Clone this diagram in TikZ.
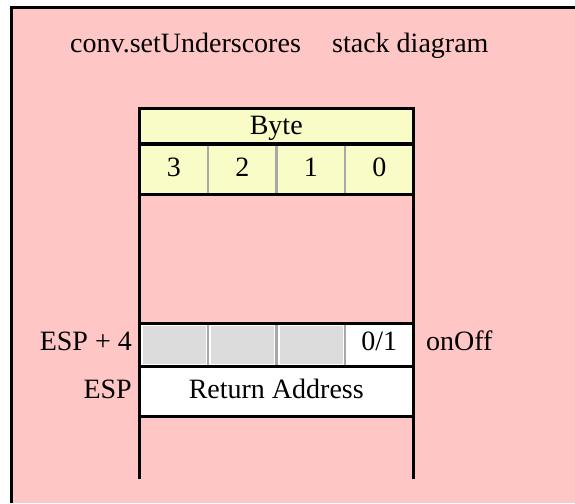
\documentclass[tikz,border=0pt]{standalone}
\usepackage{fontspec}
\setmainfont{Liberation Serif}
\definecolor{bgpink}{RGB}{255,198,198}
\definecolor{hdryellow}{RGB}{250,252,200}
\definecolor{cellgray}{RGB}{220,220,220}
\definecolor{divgray}{RGB}{168,168,168}
\begin{document}
\begin{tikzpicture}[x=1pt,y=-1pt,
  txt/.style={font=\fontsize{28}{32}\selectfont, inner sep=0pt},
  frameline/.style={line width=3pt, black},
  sepline/.style={line width=2.5pt, divgray},
  grayfill/.style={fill=cellgray},
]
\useasboundingbox (0,0) rectangle (575,503);
% background
\fill[bgpink] (10,6) rectangle (575,503);
\draw[frameline] (11.5,503) -- (11.5,7.5) -- (575,7.5);
% title
\node[txt, anchor=base west] (title) at (70,52.5) {conv.setUnderscores};
\node[txt, anchor=base west] (title2) at (332,52.5) {stack diagram};
% header fills
\fill[hdryellow] (139.5,108) rectangle (413,194.5);
% row fills
\fill[white] (139.5,323) rectangle (413,416.5);
\fill[grayfill] (143,325.5) rectangle (205.5,364);
\fill[grayfill] (211,325.5) rectangle (274,364);
\fill[grayfill] (279.5,325.5) rectangle (342.5,364);
% gray dividers
\foreach \xx in {208,276.5,345} {
  \draw[sepline] (\xx,145) -- (\xx,193.5);
  \draw[sepline] (\xx,324) -- (\xx,365.5);
}
% frame lines
\coordinate (tl) at (139.5,108);
\coordinate (tr) at (413,108);
\coordinate (bl) at (139.5,479);
\coordinate (br) at (413,479);
\draw[frameline] (tl) -- (bl);
\draw[frameline] (tr) -- (br);
\draw[frameline] (138,108) -- (414.5,108);
\draw[line width=4pt] (138,144) -- (415,144);
\draw[frameline] (138,194.5) -- (415,194.5);
\draw[frameline] (138,323) -- (415,323);
\draw[frameline] (138,366.5) -- (415,366.5);
\draw[frameline] (138,416.5) -- (415,416.5);
% texts
\node[txt, anchor=base] (byte) at (276.25,134) {Byte};
\node[txt, anchor=base] (b3) at (173.75,176.5) {3};
\node[txt, anchor=base] (b2) at (242.25,176.5) {2};
\node[txt, anchor=base] (b1) at (310.75,176.5) {1};
\node[txt, anchor=base] (b0) at (379.25,176.5) {0};
\node[txt, anchor=base] (v01) at (379.25,350.5) {0/1};
\node[txt, anchor=base] (ra) at (276.25,398) {Return Address};
\node[txt, anchor=base east] (esp4) at (132,350.5) {ESP + 4};
\node[txt, anchor=base east] (esp) at (132,398) {ESP};
\node[txt, anchor=base west] (onoff) at (426,350.5) {onOff};
\end{tikzpicture}
\end{document}
